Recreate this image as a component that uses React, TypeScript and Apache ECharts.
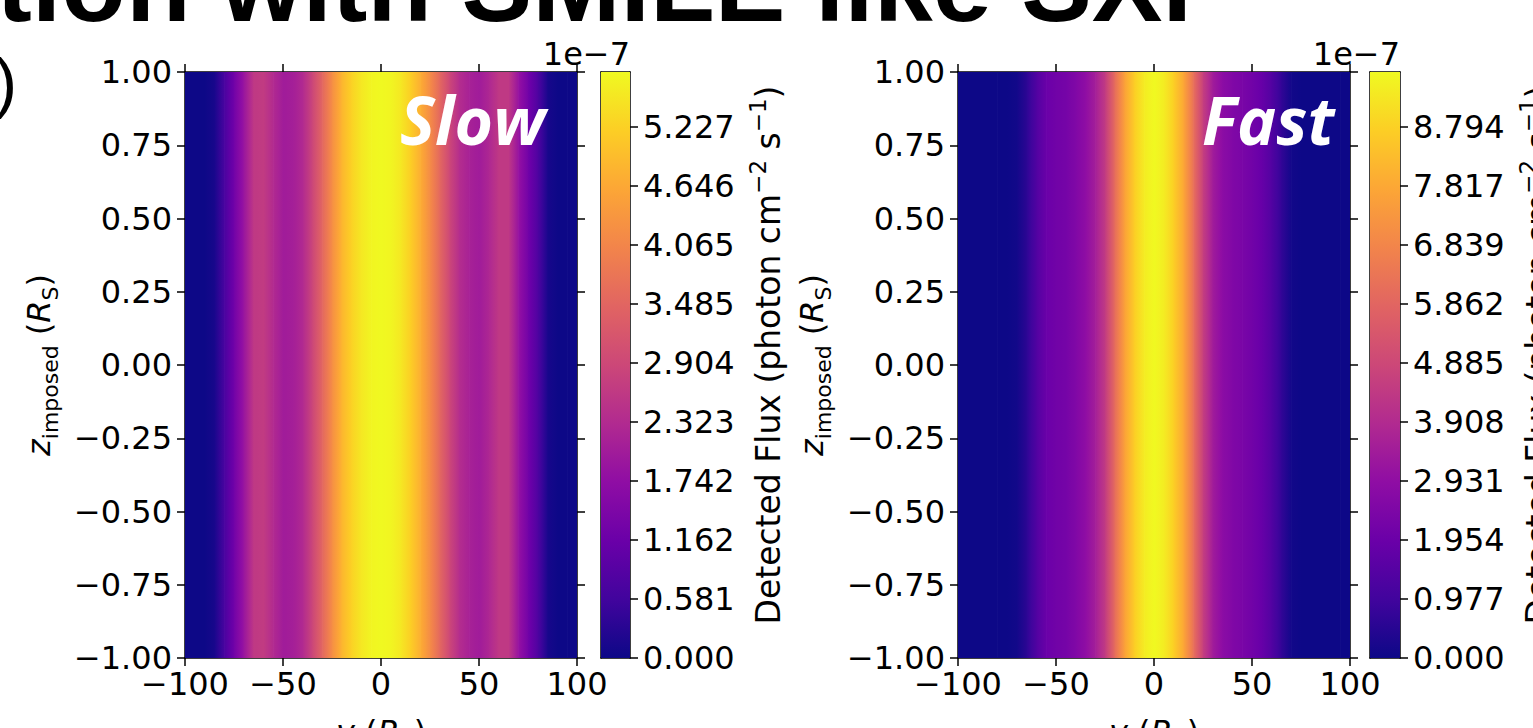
import React, { useEffect, useRef } from "react";
import * as echarts from "echarts";

// ---- data (flux in units of 1e-7 photon cm^-2 s^-1) ----
const Y_POS = [-100, -95, -90, -85, -80, -75, -70, -65, -60, -55, -50, -45, -40, -35, -30, -25, -20, -15, -10, -5, 0, 5, 10, 15, 20, 25, 30, 35, 40, 45, 50, 55, 60, 65, 70, 75, 80, 85, 90, 95, 100];
const SLOW_FLUX = [0, 0, 0, 0.12, 0.69, 1.27, 1.9, 2.6, 2.65, 2.31, 2.02, 2.08, 2.31, 2.88, 3.52, 4.21, 4.85, 5.25, 5.54, 5.71, 5.77, 5.71, 5.54, 5.19, 4.73, 4.15, 3.52, 2.88, 2.36, 2.13, 2.02, 2.25, 2.6, 2.6, 1.85, 1.27, 0.75, 0.12, 0, 0, 0];
const FAST_FLUX = [0, 0, 0, 0, 0, 0, 0.1, 0.58, 1.36, 1.94, 2.13, 2.23, 2.52, 2.91, 3.49, 4.46, 6.11, 7.66, 8.73, 9.41, 9.7, 9.41, 8.73, 7.76, 6.21, 4.56, 3.4, 2.81, 2.52, 2.33, 2.13, 1.84, 1.36, 0.68, 0.1, 0, 0, 0, 0, 0, 0];
const SLOW_MAX = 5.768;
const FAST_MAX = 9.7;
const SLOW_TICKS = [0.0, 0.581, 1.162, 1.742, 2.323, 2.904, 3.485, 4.065, 4.646, 5.227];
const FAST_TICKS = [0.0, 0.977, 1.954, 2.931, 3.908, 4.885, 5.862, 6.839, 7.817, 8.794];
const X_TICKS = [-100, -50, 0, 50, 100];
const Z_TICKS = [-1, -0.75, -0.5, -0.25, 0, 0.25, 0.5, 0.75, 1];
const PANEL_LABELS = ["Slow", "Fast"];

// matplotlib "plasma" colormap stops
const PLASMA = ["#0d0887", "#41049d", "#6a00a8", "#8f0da4", "#b12a90", "#cc4778", "#e16462", "#f2844b", "#fca636", "#fcce25", "#f0f921"];

function hexToRgb(h: string) {
  const n = parseInt(h.slice(1), 16);
  return [(n >> 16) & 255, (n >> 8) & 255, n & 255];
}
function plasma(t: number): string {
  const c = Math.max(0, Math.min(1, t)) * (PLASMA.length - 1);
  const i = Math.min(Math.floor(c), PLASMA.length - 2);
  const f = c - i;
  const a = hexToRgb(PLASMA[i]);
  const b = hexToRgb(PLASMA[i + 1]);
  const m = a.map((v, k) => Math.round(v + (b[k] - v) * f));
  return `rgb(${m[0]},${m[1]},${m[2]})`;
}

const FONT = "DejaVu Sans";
const TICK_FS = 32;
const NAME_FS = 32;
const CB_NAME_FS = 33;
const minus = (s: string) => s.replace("-", "\u2212");

const PLOT_TOP = 72;
const PLOT_H = 586;

function buildOption() {
  const grid: any[] = [];
  const xAxis: any[] = [];
  const yAxis: any[] = [];
  const series: any[] = [];
  const graphic: any[] = [];

  const lineStyle = { color: "#000", width: 1.5 };
  const tickStyle = { show: true, inside: false, length: 8, lineStyle: { color: "#000", width: 1.5 } };
  const labelBase = { color: "#000", fontFamily: FONT, fontSize: TICK_FS };

  const panels = [
    { plotLeft: 185, cbLeft: 601, cbW: 29, flux: SLOW_FLUX, max: SLOW_MAX, ticks: SLOW_TICKS, label: PANEL_LABELS[0], labelX: 400 },
    { plotLeft: 958, cbLeft: 1370, cbW: 30, flux: FAST_FLUX, max: FAST_MAX, ticks: FAST_TICKS, label: PANEL_LABELS[1], labelX: 1202 },
  ];

  panels.forEach((p) => {
    const g0 = grid.length;
    grid.push({ left: p.plotLeft, top: PLOT_TOP, width: 392, height: PLOT_H, containLabel: false, outerBoundsMode: "none" });
    grid.push({ left: p.cbLeft, top: PLOT_TOP, width: p.cbW, height: PLOT_H, containLabel: false, outerBoundsMode: "none" });
    const xi = xAxis.length;
    const yi = yAxis.length;

    // main plot axes
    xAxis.push({
      gridIndex: g0, type: "value", position: "bottom", min: -100, max: 100, interval: 50,
      axisLine: { show: true, onZero: false, lineStyle }, axisTick: tickStyle, splitLine: { show: false },
      axisLabel: { ...labelBase, margin: 10, customValues: X_TICKS, formatter: (v: number) => minus(String(v)) },
      name: "{it|y} ({it|R}{sub|S})", nameLocation: "middle", nameGap: 52,
      nameTextStyle: {
        color: "#000", fontFamily: FONT, fontSize: NAME_FS, lineHeight: 44,
        rich: {
          it: { fontFamily: FONT, fontSize: NAME_FS, fontStyle: "italic", lineHeight: 44 },
          sub: { fontFamily: FONT, fontSize: 22, fontStyle: "normal", lineHeight: 30, verticalAlign: "bottom" },
        },
      },
    });
    xAxis.push({
      gridIndex: g0, type: "value", position: "top", min: -100, max: 100, interval: 50,
      axisLine: { show: true, onZero: false, lineStyle }, axisTick: tickStyle, splitLine: { show: false },
      axisLabel: { show: false },
    });
    yAxis.push({
      gridIndex: g0, type: "value", position: "left", min: -1, max: 1, interval: 0.25,
      axisLine: { show: true, onZero: false, lineStyle }, axisTick: tickStyle, splitLine: { show: false },
      axisLabel: { ...labelBase, margin: 13, customValues: Z_TICKS, formatter: (v: number) => minus(v.toFixed(2)) },
      name: "{it|z}{sub|imposed} ({it|R}{sub|S})", nameLocation: "middle", nameRotate: 90, nameGap: 124,
      nameTextStyle: {
        color: "#000", fontFamily: FONT, fontSize: NAME_FS, lineHeight: 44,
        rich: {
          it: { fontFamily: FONT, fontSize: NAME_FS, fontStyle: "italic", lineHeight: 44 },
          sub: { fontFamily: FONT, fontSize: 22, fontStyle: "normal", lineHeight: 30, verticalAlign: "bottom" },
        },
      },
    });
    yAxis.push({
      gridIndex: g0, type: "value", position: "right", min: -1, max: 1, interval: 0.25,
      axisLine: { show: true, onZero: false, lineStyle }, axisTick: tickStyle, splitLine: { show: false },
      axisLabel: { show: false },
    });

    // colorbar axes
    xAxis.push({ gridIndex: g0 + 1, type: "value", position: "bottom", min: 0, max: 1,
      axisLine: { show: true, onZero: false, lineStyle }, axisTick: { show: false }, axisLabel: { show: false }, splitLine: { show: false } });
    xAxis.push({ gridIndex: g0 + 1, type: "value", position: "top", min: 0, max: 1,
      axisLine: { show: true, onZero: false, lineStyle }, axisTick: { show: false }, axisLabel: { show: false }, splitLine: { show: false } });
    yAxis.push({
      gridIndex: g0 + 1, type: "value", position: "right", min: 0, max: p.max,
      axisLine: { show: true, onZero: false, lineStyle },
      axisTick: { ...tickStyle, customValues: p.ticks }, splitLine: { show: false },
      axisLabel: { ...labelBase, margin: 13, customValues: p.ticks, formatter: (v: number) => v.toFixed(3) },
      name: "{n|Detected Flux (photon cm}{sup|\u22122}{n| s}{sup|\u22121}{n|)}",
      nameLocation: "middle", nameRotate: 90, nameGap: 116,
      nameTextStyle: {
        color: "#000", fontFamily: FONT, fontSize: CB_NAME_FS, lineHeight: 44, padding: [0, 0, 0, 20],
        rich: {
          n: { fontFamily: FONT, fontSize: CB_NAME_FS, lineHeight: 44 },
          sup: { fontFamily: FONT, fontSize: 23, lineHeight: 30, verticalAlign: "top" },
        },
      },
    });
    yAxis.push({ gridIndex: g0 + 1, type: "value", position: "left", min: 0, max: p.max,
      axisLine: { show: true, onZero: false, lineStyle }, axisTick: { show: false }, axisLabel: { show: false }, splitLine: { show: false } });

    // heat map (constant along z): one gradient column between consecutive profile samples
    const data = Y_POS.slice(0, -1).map((y, i) => [y, Y_POS[i + 1], p.flux[i], p.flux[i + 1]]);
    const max = p.max;
    series.push({
      type: "custom", coordinateSystem: "cartesian2d", xAxisIndex: xi, yAxisIndex: yi, silent: true, clip: true,
      data,
      renderItem: (params: any, api: any) => {
        const x0 = api.value(0), x1 = api.value(1), v0 = api.value(2), v1 = api.value(3);
        const a = api.coord([x0, 1]);
        const b = api.coord([x1, -1]);
        const stops = [0, 0.25, 0.5, 0.75, 1].map((o) => ({ offset: o, color: plasma((v0 + (v1 - v0) * o) / max) }));
        return {
          type: "rect",
          shape: { x: a[0], y: a[1], width: b[0] - a[0] + 0.7, height: b[1] - a[1] },
          style: { fill: new echarts.graphic.LinearGradient(0, 0, 1, 0, stops) },
        };
      },
      z: 1,
    });
    // colorbar
    series.push({
      type: "custom", coordinateSystem: "cartesian2d", xAxisIndex: xi + 2, yAxisIndex: yi + 2, silent: true,
      data: [[0, 0]],
      renderItem: (params: any, api: any) => {
        const a = api.coord([0, max]);
        const b = api.coord([1, 0]);
        return {
          type: "rect",
          shape: { x: a[0], y: a[1], width: b[0] - a[0], height: b[1] - a[1] },
          style: { fill: new echarts.graphic.LinearGradient(0, 1, 0, 0, PLASMA.map((c, k) => ({ offset: k / (PLASMA.length - 1), color: c }))) },
        };
      },
      z: 1,
    });

    // offset text "1e-7"
    graphic.push({ type: "text", x: p.cbLeft + p.cbW, y: 70, z: 10,
      style: { text: "1e\u22127", align: "right", verticalAlign: "bottom", fontFamily: FONT, fontSize: TICK_FS, fill: "#000" } });
    // panel label
    graphic.push({ type: "text", x: p.labelX, y: 152, z: 10,
      style: { text: p.label, align: "left", verticalAlign: "bottom", fontFamily: "Open Sans", fontStyle: "italic", fontWeight: "bold", fontSize: 66, fill: "#fff" } });
  });

  // slide fragments (clipped by the page)
  graphic.push({ type: "text", x: 1192, y: -16, z: 10,
    style: { text: "Simulation with SMILE like SXI", align: "right", verticalAlign: "middle", fontFamily: "Liberation Sans", fontWeight: "bold", fontSize: 106, fill: "#000" } });
  graphic.push({ type: "text", x: 17, y: 81, z: 10,
    style: { text: "(a)", align: "right", verticalAlign: "middle", fontFamily: "Liberation Sans", fontSize: 67, fill: "#000" } });

  return { animation: false, backgroundColor: "#fff", grid, xAxis, yAxis, series, graphic };
}

export default function App() {
  const ref = useRef<HTMLDivElement>(null);
  useEffect(() => {
    if (!ref.current) return;
    const chart = echarts.init(ref.current, undefined, { renderer: "svg" });
    chart.setOption(buildOption() as any);
    return () => chart.dispose();
  }, []);
  return <div ref={ref} style={{ position: "fixed", left: 0, top: 0, width: 1533, height: 728, background: "#fff" }} />;
}
